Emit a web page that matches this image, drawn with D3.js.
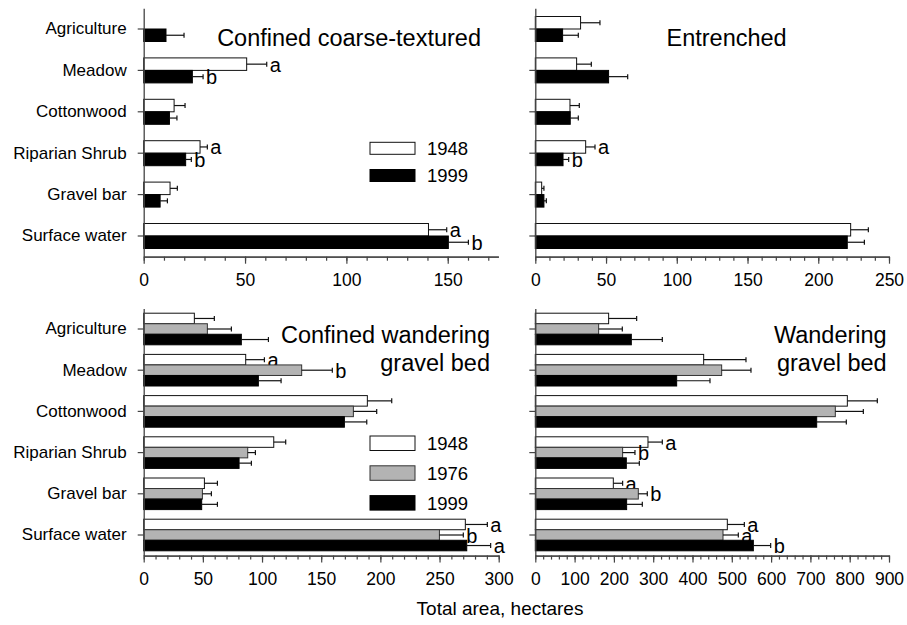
<!DOCTYPE html>
<html>
<head>
<meta charset="utf-8">
<script src="https://cdn.jsdelivr.net/npm/d3@7"></script>
<style>
  html, body { margin: 0; padding: 0; background: #fff; }
  svg { display: block; font-family: "Liberation Sans", Arial, Helvetica, sans-serif; }
</style>
</head>
<body>
<svg id="chart" width="907" height="625"></svg>
<script>
// Land-cover categories shared by every panel
const categories = ["Agriculture", "Meadow", "Cottonwood", "Riparian Shrub", "Gravel bar", "Surface water"];

// Confined coarse-textured reaches (hectares, mean and standard error)
const coarseYears = ["1948", "1999"];
const coarse1948 = [0, 50.8, 15.0, 27.8, 13.0, 140.5];
const coarse1948Err = [0, 9.9, 5.4, 3.6, 3.6, 9.0];
const coarse1999 = [11.0, 24.0, 12.7, 20.7, 8.1, 150.3];
const coarse1999Err = [8.9, 5.3, 3.7, 2.8, 3.6, 9.9];
const coarseLetters1948 = ["", "a", "", "a", "", "a"];
const coarseLetters1999 = ["", "b", "", "b", "", "b"];

// Entrenched reaches
const entrenchedYears = ["1948", "1999"];
const entrenched1948 = [32.0, 29.2, 24.5, 35.6, 4.5, 222.9];
const entrenched1948Err = [13.7, 10.4, 6.6, 6.6, 1.6, 12.5];
const entrenched1999 = [19.3, 51.8, 24.7, 19.6, 6.1, 220.5];
const entrenched1999Err = [11.1, 13.5, 5.7, 4.0, 1.7, 12.1];
const entrenchedLetters1948 = ["", "", "", "a", "", ""];
const entrenchedLetters1999 = ["", "", "", "b", "", ""];

// Confined wandering gravel-bed reaches
const confinedYears = ["1948", "1976", "1999"];
const confined1948 = [42.8, 86.2, 189.0, 109.9, 51.3, 271.8];
const confined1948Err = [16.9, 15.8, 20.6, 10.1, 11.0, 18.6];
const confined1976 = [53.8, 133.5, 177.2, 87.9, 49.6, 249.9];
const confined1976Err = [20.3, 25.9, 19.7, 6.5, 7.6, 20.2];
const confined1999 = [82.5, 96.9, 169.6, 80.6, 49.0, 273.0];
const confined1999Err = [22.9, 19.2, 18.9, 10.4, 13.3, 20.2];
const confinedLetters1948 = ["", "a", "", "", "", "a"];
const confinedLetters1976 = ["", "b", "", "", "", "b"];
const confinedLetters1999 = ["", "", "", "", "", "a"];

// Wandering gravel-bed reaches
const wanderingYears = ["1948", "1976", "1999"];
const wandering1948 = [186.6, 428.4, 794.0, 286.7, 198.5, 488.6];
const wandering1948Err = [71.3, 107.7, 76.3, 36.5, 23.7, 43.3];
const wandering1976 = [161.2, 474.2, 763.4, 222.2, 262.1, 477.6];
const wandering1976Err = [60.2, 74.6, 71.3, 31.4, 22.9, 39.0];
const wandering1999 = [244.3, 359.7, 716.0, 231.6, 232.4, 554.8];
const wandering1999Err = [78.9, 84.8, 75.4, 33.1, 39.9, 44.1];
const wanderingLetters1948 = ["", "", "", "a", "a", "a"];
const wanderingLetters1976 = ["", "", "", "b", "b", "a"];
const wanderingLetters1999 = ["", "", "", "", "", "b"];

const yearFill = { "1948": "#ffffff", "1976": "#b3b3b3", "1999": "#000000" };
const yearStroke = { "1948": "#111", "1976": "#333", "1999": "#000" };
const axisColor = "#444";

const svg = d3.select("#chart");

function buildSeries(years, values, errs, letters) {
  return years.map((y, i) => ({ year: y, values: values[i], errs: errs[i], letters: letters[i] }));
}

const panels = [
  {
    series: buildSeries(coarseYears, [coarse1948, coarse1999], [coarse1948Err, coarse1999Err], [coarseLetters1948, coarseLetters1999]),
    xDomain: 175, xRange: [143.7, 498.4], yRange: [8.3, 256.7],
    major: 50, minor: 10, groupHalf: 12.5, showLabels: true,
    title: [{ text: "Confined coarse-textured", x: 481, y: 45.7 }],
    legend: { x: 370, y: 142.3, boxH: 12, step: 27.2 }
  },
  {
    series: buildSeries(entrenchedYears, [entrenched1948, entrenched1999], [entrenched1948Err, entrenched1999Err], [entrenchedLetters1948, entrenchedLetters1999]),
    xDomain: 250, xRange: [535.3, 889], yRange: [8.3, 256.7],
    major: 50, minor: 10, groupHalf: 12.5, showLabels: false,
    title: [{ text: "Entrenched", x: 786.7, y: 45.7 }]
  },
  {
    series: buildSeries(confinedYears, [confined1948, confined1976, confined1999], [confined1948Err, confined1976Err, confined1999Err], [confinedLetters1948, confinedLetters1976, confinedLetters1999]),
    xDomain: 300, xRange: [143.7, 498.7], yRange: [308.4, 555.6],
    major: 50, minor: 10, groupHalf: 15.8, showLabels: true,
    title: [{ text: "Confined wandering", x: 490, y: 343.3 }, { text: "gravel bed", x: 490, y: 371 }],
    legend: { x: 370, y: 436, boxH: 14.5, step: 29.8 }
  },
  {
    series: buildSeries(wanderingYears, [wandering1948, wandering1976, wandering1999], [wandering1948Err, wandering1976Err, wandering1999Err], [wanderingLetters1948, wanderingLetters1976, wanderingLetters1999]),
    xDomain: 900, xRange: [535.3, 889], yRange: [308.4, 555.6],
    major: 100, minor: 20, groupHalf: 15.8, showLabels: false,
    title: [{ text: "Wandering", x: 886.7, y: 343.3 }, { text: "gravel bed", x: 886.7, y: 371 }]
  }
];

panels.forEach(p => {
  const g = svg.append("g");
  const x = d3.scaleLinear().domain([0, p.xDomain]).range(p.xRange);
  const y = d3.scaleBand().domain(categories).range(p.yRange).paddingInner(0).paddingOuter(0);
  const years = p.series.map(s => s.year);
  const inner = d3.scaleBand().domain(years).range([-p.groupHalf, p.groupHalf]);
  const x0 = x(0);

  // bars, error bars and significance letters
  p.series.forEach(s => {
    const sg = g.append("g");
    const rows = categories.map((c, i) => ({ cat: c, v: s.values[i], e: s.errs[i], l: s.letters[i] }))
      .filter(d => d.v > 0);
    const yc = d => y(d.cat) + y.bandwidth() / 2 + inner(s.year);
    sg.selectAll("rect").data(rows).join("rect")
      .attr("x", x0)
      .attr("y", d => yc(d))
      .attr("width", d => x(d.v) - x0)
      .attr("height", inner.bandwidth())
      .attr("fill", yearFill[s.year])
      .attr("stroke", yearStroke[s.year])
      .attr("stroke-width", 1);
    const mid = d => yc(d) + inner.bandwidth() / 2;
    sg.selectAll("line.err").data(rows).join("line")
      .attr("class", "err")
      .attr("x1", d => x(d.v)).attr("x2", d => x(d.v + d.e))
      .attr("y1", mid).attr("y2", mid)
      .attr("stroke", "#111").attr("stroke-width", 1.2);
    sg.selectAll("line.cap").data(rows).join("line")
      .attr("class", "cap")
      .attr("x1", d => x(d.v + d.e)).attr("x2", d => x(d.v + d.e))
      .attr("y1", d => mid(d) - 2.5).attr("y2", d => mid(d) + 2.5)
      .attr("stroke", "#111").attr("stroke-width", 1.2);
    sg.selectAll("text").data(rows.filter(d => d.l)).join("text")
      .attr("x", d => x(d.v + d.e) + 3)
      .attr("y", d => mid(d) + 7.5)
      .attr("font-size", 20)
      .attr("fill", "#000")
      .text(d => d.l);
  });

  // x axis: minor ticks then labelled major ticks
  const axisY = p.yRange[1];
  const minorVals = d3.range(0, p.xDomain + 0.001, p.minor);
  const majorVals = d3.range(0, p.xDomain + 0.001, p.major);
  const minorAxis = d3.axisBottom(x).tickValues(minorVals).tickSize(4).tickSizeOuter(0).tickFormat("");
  const majorAxis = d3.axisBottom(x).tickValues(majorVals).tickSize(7).tickSizeOuter(0).tickPadding(10);
  const gMinor = g.append("g").attr("transform", `translate(0,${axisY})`).call(minorAxis);
  const gMajor = g.append("g").attr("transform", `translate(0,${axisY})`).call(majorAxis);
  [gMinor, gMajor].forEach(ax => {
    ax.select(".domain").attr("stroke", axisColor).attr("stroke-width", 1.3);
    ax.selectAll(".tick line").attr("stroke", axisColor).attr("stroke-width", 1.2);
  });
  gMajor.selectAll(".tick text")
    .attr("font-size", 17.5)
    .attr("font-family", "Liberation Sans, Arial, sans-serif")
    .attr("fill", "#000");

  // y axis with category ticks
  const yAxis = d3.axisLeft(y).tickSize(6).tickSizeOuter(0).tickPadding(11);
  if (!p.showLabels) yAxis.tickFormat("");
  const gy = g.append("g").attr("transform", `translate(${x0},0)`).call(yAxis);
  gy.select(".domain").attr("stroke", axisColor).attr("stroke-width", 1.3);
  gy.selectAll(".tick line").attr("stroke", axisColor).attr("stroke-width", 1.2);
  gy.selectAll(".tick text")
    .attr("font-size", 17)
    .attr("font-family", "Liberation Sans, Arial, sans-serif")
    .attr("fill", "#000");

  // panel title
  p.title.forEach(t => {
    g.append("text")
      .attr("x", t.x).attr("y", t.y)
      .attr("text-anchor", "end")
      .attr("font-size", 23.5)
      .attr("fill", "#000")
      .text(t.text);
  });

  // legend
  if (p.legend) {
    const L = p.legend;
    years.forEach((yr, i) => {
      const top = L.y + i * L.step;
      g.append("rect")
        .attr("x", L.x).attr("y", top)
        .attr("width", 45).attr("height", L.boxH)
        .attr("fill", yearFill[yr]).attr("stroke", yearStroke[yr]).attr("stroke-width", 1);
      g.append("text")
        .attr("x", L.x + 57).attr("y", top + L.boxH / 2 + 6.8)
        .attr("font-size", 18.5)
        .attr("fill", "#000")
        .text(yr);
    });
  }
});

// shared x-axis title
svg.append("text")
  .attr("x", 500).attr("y", 615)
  .attr("text-anchor", "middle")
  .attr("font-size", 19)
  .attr("fill", "#000")
  .text("Total area, hectares");
</script>
</body>
</html>
